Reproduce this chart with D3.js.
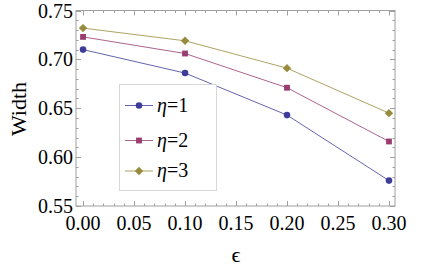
<!DOCTYPE html>
<html><head><meta charset="utf-8">
<script src="https://cdn.jsdelivr.net/npm/d3@7"></script>
<style>body{margin:0;background:#fff}svg{display:block}</style>
</head><body>
<script>
const eps = [0.00, 0.10, 0.20, 0.30];
const eta1 = [0.710, 0.686, 0.643, 0.576];
const eta2 = [0.723, 0.706, 0.671, 0.616];
const eta3 = [0.732, 0.719, 0.691, 0.645];
const seriesNames = ["η=1", "η=2", "η=3"];
const colors = ["#3d3d99", "#993d71", "#998b3d"];
const xTicks = [0, 0.05, 0.10, 0.15, 0.20, 0.25, 0.30];
const yTicks = [0.55, 0.60, 0.65, 0.70, 0.75];

const W = 436, H = 272;
const FONT = '"Liberation Serif"';
const svg = d3.select("body").append("svg").attr("width", W).attr("height", H);
const x = d3.scaleLinear().domain([-0.0069, 0.3059]).range([76, 395]);
const y = d3.scaleLinear().domain([0.55, 0.75]).range([206, 10.5]);
const frameCol = "#a0a0a0";

svg.append("rect").attr("x", 76).attr("y", 10.5).attr("width", 319).attr("height", 195.5)
  .attr("fill", "none").attr("stroke", frameCol).attr("stroke-width", 1);

const xMinor = d3.range(0, 0.3001, 0.01);
const yMinor = d3.range(0.55, 0.7501, 0.01);
const isMajor = (v) => Math.abs(v / 0.05 - Math.round(v / 0.05)) < 1e-6;
const tg = svg.append("g").attr("stroke", frameCol).attr("stroke-width", 1);
xMinor.forEach(v => {
  const L = isMajor(v) ? 5 : 2.5;
  const px = Math.round(x(v)) + 0.5;
  tg.append("line").attr("x1", px).attr("x2", px).attr("y1", 206).attr("y2", 206 - L);
  tg.append("line").attr("x1", px).attr("x2", px).attr("y1", 10.5).attr("y2", 10.5 + L);
});
yMinor.forEach(v => {
  const L = isMajor(v) ? 5 : 2.5;
  const py = Math.round(y(v)) + 0.5;
  tg.append("line").attr("x1", 76).attr("x2", 76 + L).attr("y1", py).attr("y2", py);
  tg.append("line").attr("x1", 395).attr("x2", 395 - L).attr("y1", py).attr("y2", py);
});

svg.append("g").selectAll("text").data(xTicks).join("text")
  .attr("x", d => x(d)).attr("y", 230).attr("text-anchor", "middle")
  .style("font-family", FONT).attr("font-size", 20).text(d => d.toFixed(2));
svg.append("g").selectAll("text").data(yTicks).join("text")
  .attr("x", 73).attr("y", d => y(d) + 7).attr("text-anchor", "end")
  .style("font-family", FONT).attr("font-size", 20).text(d => d.toFixed(2));

svg.append("text").attr("transform", "translate(26,109) rotate(-90)")
  .attr("text-anchor", "middle").style("font-family", FONT).attr("font-size", 22).text("Width");
svg.append("text").attr("x", 236).attr("y", 262).attr("text-anchor", "middle")
  .style("font-family", FONT).attr("font-size", 22).text("ϵ");

const data = [eta1, eta2, eta3];
function marker(k) {
  if (k === 0) return d3.symbol().type(d3.symbolCircle).size(34)();
  if (k === 1) return d3.symbol().type(d3.symbolSquare).size(34)();
  return "M0,-4.2L4.2,0L0,4.2L-4.2,0Z";
}
const line = d3.line().x((d, i) => x(eps[i])).y(d => y(d));
data.forEach((s, k) => {
  svg.append("path").attr("d", line(s)).attr("fill", "none")
    .attr("stroke", colors[k]).attr("stroke-width", 1).attr("stroke-opacity", 0.8);
});
data.forEach((s, k) => {
  svg.append("g").selectAll("path").data(s).join("path")
    .attr("transform", (d, i) => `translate(${x(eps[i])},${y(d)})`)
    .attr("d", marker(k)).attr("fill", colors[k]);
});

const lg = svg.append("g");
lg.append("rect").attr("x", 119.5).attr("y", 84.5).attr("width", 97).attr("height", 106)
  .attr("fill", "#fff").attr("stroke", "#d8d8d8").attr("stroke-width", 1);
const rowsY = [105.5, 140.5, 171];
seriesNames.forEach((n, k) => {
  lg.append("line").attr("x1", 125).attr("x2", 153).attr("y1", rowsY[k]).attr("y2", rowsY[k])
    .attr("stroke", colors[k]).attr("stroke-width", 1).attr("stroke-opacity", 0.8);
  lg.append("path").attr("transform", `translate(139,${rowsY[k]})`)
    .attr("d", marker(k)).attr("fill", colors[k]);
  const t = lg.append("text").attr("x", 157).attr("y", rowsY[k] + 6)
    .style("font-family", FONT).attr("font-size", 20);
  t.append("tspan").attr("font-style", "italic").text("η");
  t.append("tspan").text("=" + (k + 1));
});
</script>
</body></html>
